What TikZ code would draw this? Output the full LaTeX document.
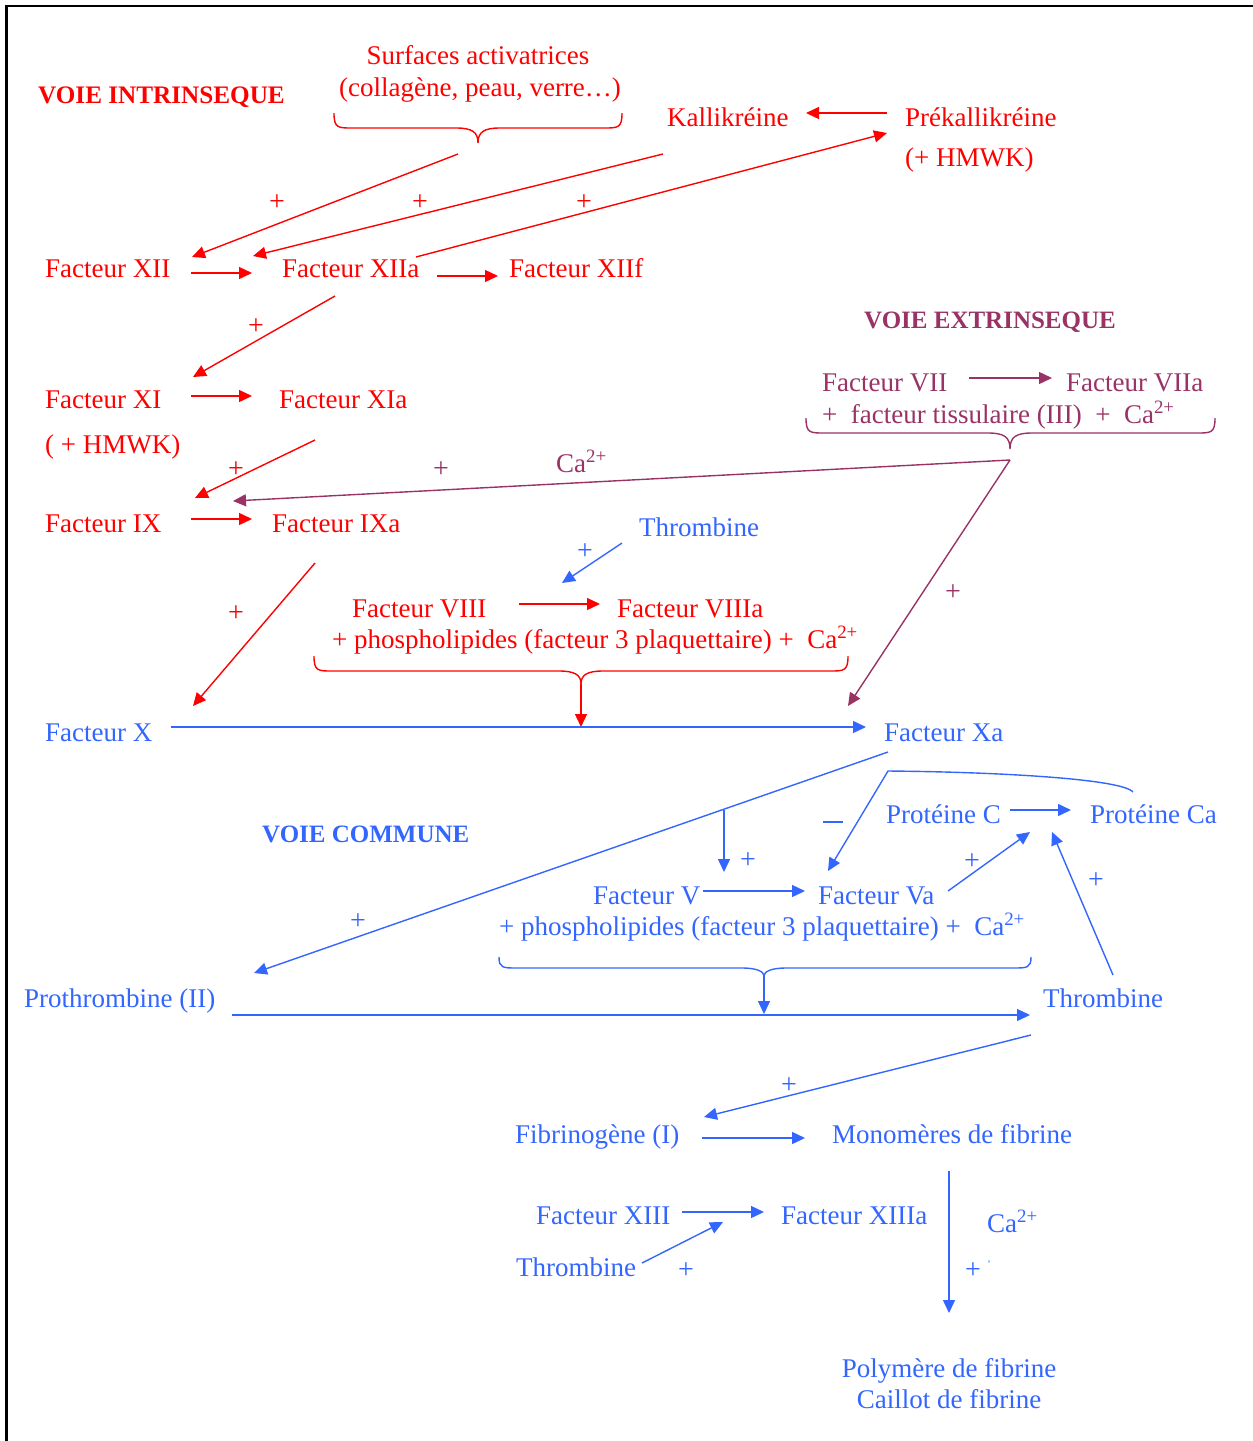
\documentclass[tikz,border=0pt]{standalone}
\usepackage{fontspec}
\setmainfont{Liberation Serif}
\usetikzlibrary{arrows.meta}
\definecolor{cred}{HTML}{FF0000}
\definecolor{cplum}{HTML}{993366}
\definecolor{cblue}{HTML}{3366FF}

% curly brace opening upwards, tip pointing down
% #1 options, #2 left x, #3 right x, #4 top y, #5 bottom y, #6 tip x, #7 tip y
\newcommand\wbrace[7]{%
  \draw[ln,#1] (#2,#4) .. controls (#2,#5) and (#2+4,#5) .. (#2+18,#5)
    -- (#6-22,#5) .. controls (#6-6,#5) and (#6,#5+4) .. (#6,#7)
    .. controls (#6,#5+4) and (#6+6,#5) .. (#6+22,#5)
    -- (#3-18,#5) .. controls (#3-4,#5) and (#3,#5) .. (#3,#4);}

\begin{document}
\begin{tikzpicture}[x=1pt,y=-1pt,
  lbl/.style={inner sep=0pt, anchor=base west, font=\fontsize{27}{32}\selectfont},
  clbl/.style={inner sep=0pt, anchor=base, font=\fontsize{27}{32}\selectfont},
  head/.style={inner sep=0pt, anchor=base west, font=\fontsize{25}{30}\selectfont\bfseries},
  pl/.style={inner sep=0pt, font=\fontsize{28}{32}\selectfont},
  ln/.style={line width=1.4pt},
  arr/.style={line width=1.4pt, -{Triangle[length=13pt,width=12pt]}},
  intr/.style={color=cred},
  extr/.style={color=cplum},
  comm/.style={color=cblue}]

\useasboundingbox (0,0) rectangle (1253,1441);
\fill[white] (0,0) rectangle (1253,1441);

% page frame (top and left edges)
\draw[line width=2.2pt] (6.5,1441) -- (6.5,6) -- (1253,6);

% ---------------- intrinsic pathway ----------------
\begin{scope}[intr]
\node[head,font=\fontsize{25.2}{30}\selectfont\bfseries] (vi) at (38,103) {VOIE INTRINSEQUE};
\node[clbl] (surf) at (478,64) {Surfaces activatrices};
\node[clbl] (coll) at (480,96) {(collagène, peau, verre…)};
\node[lbl] (kal) at (667,126) {Kallikréine};
\node[lbl] (prek) at (905,126) {Prékallikréine};
\node[lbl] (prekh) at (905,166) {(+ HMWK)};
\node[lbl] (f12) at (45,277) {Facteur XII};
\node[lbl] (f12a) at (282,277) {Facteur XIIa};
\node[lbl] (f12f) at (509,277) {Facteur XIIf};
\node[lbl] (f11) at (45,408) {Facteur XI};
\node[lbl] (f11a) at (279,408) {Facteur XIa};
\node[lbl] (f11h) at (45,453) {( + HMWK)};
\node[lbl] (f9) at (45,532) {Facteur IX};
\node[lbl] (f9a) at (272,532) {Facteur IXa};
\node[lbl] (f8) at (352,617) {Facteur VIII};
\node[lbl] (f8a) at (617,617) {Facteur VIIIa};
\node[lbl] (cof8) at (332,648) {+ phospholipides (facteur 3 plaquettaire) +\ \ Ca\textsuperscript{2+}};

\node[pl] (pi1) at (277,203) {+};
\node[pl] (pi2) at (420,203) {+};
\node[pl] (pi3) at (584,203) {+};
\node[pl] (pi4) at (256,327) {+};
\node[pl] (pi5) at (236,470) {+};
\node[pl] (pi6) at (236,614) {+};

\wbrace{}{334}{622}{113}{128}{478}{143}
\wbrace{}{314}{848}{656}{671}{581}{684}

\coordinate (surf-out) at (458,154);
\coordinate (f12-top) at (192,257);
\coordinate (kal-out) at (663,154);
\coordinate (f12a-top) at (253,256);
\coordinate (f12a-out) at (416,257);
\coordinate (prek-in) at (887,133);
\coordinate (prek-out) at (887,113);
\coordinate (kal-in) at (806,113);
\coordinate (f12-r) at (191,273);
\coordinate (f12a-l) at (252,273);
\coordinate (f12a-r) at (437,276);
\coordinate (f12f-l) at (498,276);
\coordinate (f12a-dn) at (335,296);
\coordinate (f11-top) at (193,377);
\coordinate (f11-r) at (191,396);
\coordinate (f11a-l) at (252,396);
\coordinate (f11a-dn) at (315,440);
\coordinate (f9-top) at (195,498);
\coordinate (f9-r) at (191,519);
\coordinate (f9a-l) at (252,519);
\coordinate (f9a-dn) at (315,563);
\coordinate (f10-top) at (193,706);
\coordinate (f8-r) at (519,604);
\coordinate (f8a-l) at (600,604);
\coordinate (b8-tip) at (581,684);
\coordinate (x-line) at (581,727);

\draw[arr] (surf-out) -- (f12-top);
\draw[arr] (kal-out) -- (f12a-top);
\draw[arr] (f12a-out) -- (prek-in);
\draw[arr] (prek-out) -- (kal-in);
\draw[arr] (f12-r) -- (f12a-l);
\draw[arr] (f12a-r) -- (f12f-l);
\draw[arr] (f12a-dn) -- (f11-top);
\draw[arr] (f11-r) -- (f11a-l);
\draw[arr] (f11a-dn) -- (f9-top);
\draw[arr] (f9-r) -- (f9a-l);
\draw[arr] (f9a-dn) -- (f10-top);
\draw[arr] (f8-r) -- (f8a-l);
\draw[arr] (b8-tip) -- (x-line);
\end{scope}

% ---------------- extrinsic pathway ----------------
\begin{scope}[extr]
\node[head] (ve) at (864,328) {VOIE EXTRINSEQUE};
\node[lbl] (f7) at (822,391) {Facteur VII};
\node[lbl] (f7a) at (1066,391) {Facteur VIIa};
\node[lbl] (tf) at (822,423) {+\ \ facteur tissulaire (III)\ \ +\ \ Ca\textsuperscript{2+}};
\node[lbl] (ca9) at (556,472) {Ca\textsuperscript{2+}};
\node[pl] (pe1) at (441,470) {+};
\node[pl] (pe2) at (953,593) {+};

\wbrace{}{806}{1215}{418}{433}{1010}{449}

\coordinate (f7-r) at (969,378);
\coordinate (f7a-l) at (1052,378);
\coordinate (tf-out) at (1010,460);
\coordinate (f9a-in) at (233,501);
\coordinate (f10a-in) at (848,706);

\draw[arr] (f7-r) -- (f7a-l);
\draw[arr] (tf-out) -- (f9a-in);
\draw[arr] (tf-out) -- (f10a-in);
\end{scope}

% ---------------- common pathway ----------------
\begin{scope}[comm]
\node[lbl] (thr1) at (639,536) {Thrombine};
\node[lbl] (f10) at (45,741) {Facteur X};
\node[lbl] (f10a) at (884,741) {Facteur Xa};
\node[head] (vc) at (262,842) {VOIE COMMUNE};
\node[lbl] (pc) at (886,823) {Protéine C};
\node[lbl] (pca) at (1090,823) {Protéine Ca};
\node[lbl] (f5) at (593,904) {Facteur V};
\node[lbl] (f5a) at (818,904) {Facteur Va};
\node[lbl] (cof5) at (499,935) {+ phospholipides (facteur 3 plaquettaire) +\ \ Ca\textsuperscript{2+}};
\node[lbl] (f2) at (24,1007) {Prothrombine (II)};
\node[lbl] (thr2) at (1043,1007) {Thrombine};
\node[lbl] (fib) at (515,1143) {Fibrinogène (I)};
\node[lbl] (mono) at (832,1143) {Monomères de fibrine};
\node[lbl] (f13) at (536,1224) {Facteur XIII};
\node[lbl] (f13a) at (781,1224) {Facteur XIIIa};
\node[lbl] (thr3) at (516,1276) {Thrombine};
\node[lbl] (ca13) at (987,1232) {Ca\textsuperscript{2+}};
\node[clbl] (poly) at (949,1377) {Polymère de fibrine};
\node[clbl] (clot) at (949,1408) {Caillot de fibrine};

\node[pl] (pc1) at (585,552) {+};
\node[pl] (pc2) at (748,861) {+};
\node[pl] (pc3) at (358,922) {+};
\node[pl] (pc4) at (972,862) {+};
\node[pl] (pc5) at (1096,881) {+};
\node[pl] (pc6) at (789,1086) {+};
\node[pl] (pc7) at (686,1271) {+};
\node[pl] (pc8) at (973,1271) {+};
\node[inner sep=0pt, font=\fontsize{10}{12}\selectfont] (tick) at (989,1264) {'};
\node[inner sep=0pt] (minus) at (833,822) {\rule{20pt}{2.8pt}};

\wbrace{}{499}{1031}{957}{968}{764}{976}

\coordinate (thr1-out) at (622,543);
\coordinate (f8-top) at (562,583);
\coordinate (f10-r) at (171,727);
\coordinate (f10a-l) at (866,727);
\coordinate (f10a-out) at (888,752);
\coordinate (branch) at (724,810);
\coordinate (f2-top) at (254,973);
\coordinate (f5-top) at (724,872);
\coordinate (xa-c) at (888,771);
\coordinate (pca-hook) at (1133,792);
\coordinate (f5a-top) at (828,871);
\coordinate (pc-r) at (1010,810);
\coordinate (pca-l) at (1071,810);
\coordinate (f5-r) at (703,891);
\coordinate (f5a-l) at (805,891);
\coordinate (f5a-out) at (948,891);
\coordinate (pc-in1) at (1030,832);
\coordinate (thr2-up) at (1113,975);
\coordinate (pc-in2) at (1052,832);
\coordinate (b5-tip) at (764,976);
\coordinate (f2-line) at (764,1014);
\coordinate (f2-r) at (232,1015);
\coordinate (thr2-l) at (1030,1015);
\coordinate (thr2-out) at (1031,1035);
\coordinate (fib-in) at (704,1117);
\coordinate (fib-r) at (702,1138);
\coordinate (mono-l) at (805,1138);
\coordinate (mono-dn) at (949,1171);
\coordinate (poly-top) at (949,1313);
\coordinate (f13-r) at (682,1212);
\coordinate (f13a-l) at (764,1212);
\coordinate (thr3-out) at (642,1263);
\coordinate (f13-in) at (723,1222);

\draw[arr] (thr1-out) -- (f8-top);
\draw[arr] (f10-r) -- (f10a-l);
\draw[arr] (f10a-out) -- (f2-top);
\draw[arr] (branch) -- (f5-top);
\draw[arr] (pca-hook) .. controls (1122,779) and (1000,772) .. (xa-c) -- (f5a-top);
\draw[arr] (pc-r) -- (pca-l);
\draw[arr] (f5-r) -- (f5a-l);
\draw[arr] (f5a-out) -- (pc-in1);
\draw[arr] (thr2-up) -- (pc-in2);
\draw[arr] (b5-tip) -- (f2-line);
\draw[arr] (f2-r) -- (thr2-l);
\draw[arr] (thr2-out) -- (fib-in);
\draw[arr] (fib-r) -- (mono-l);
\draw[arr] (mono-dn) -- (poly-top);
\draw[arr] (f13-r) -- (f13a-l);
\draw[arr] (thr3-out) -- (f13-in);
\end{scope}

\end{tikzpicture}
\end{document}
